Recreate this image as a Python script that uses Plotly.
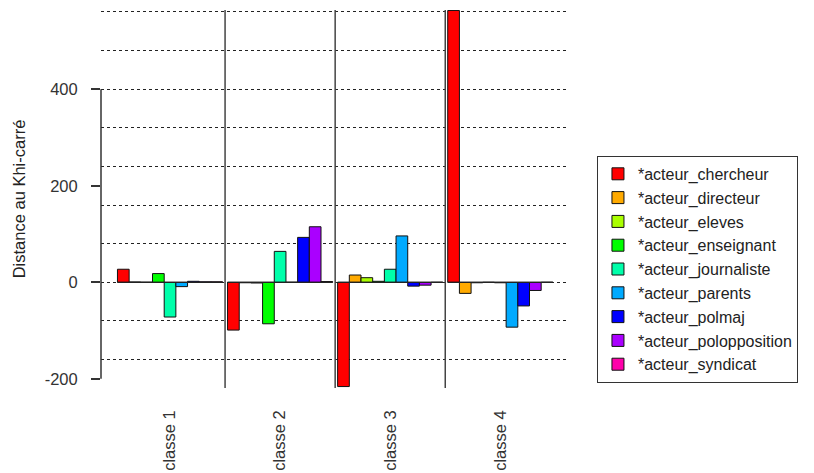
import plotly.graph_objects as go

classes = ["classe 1", "classe 2", "classe 3", "classe 4"]
series_names = ["*acteur_chercheur", "*acteur_directeur", "*acteur_eleves",
                "*acteur_enseignant", "*acteur_journaliste", "*acteur_parents",
                "*acteur_polmaj", "*acteur_polopposition", "*acteur_syndicat"]
chercheur = [27, -99, -216, 563]
directeur = [0.5, -1, 15, -23]
eleves = [0, -1.5, 9.5, -1]
enseignant = [18, -86, 2, 0]
journaliste = [-72, 64, 27, -1]
parents = [-9, 0, 96, -93]
polmaj = [2, 93, -8, -49]
polopposition = [1, 115, -6, -17]
syndicat = [1, 1.5, 0, 0]
series_values = [chercheur, directeur, eleves, enseignant, journaliste,
                 parents, polmaj, polopposition, syndicat]
colors = ["#FF0000", "#FFAA00", "#AAFF00", "#00FF00", "#00FFAA",
          "#00AAFF", "#0000FF", "#AA00FF", "#FF00AA"]
y_tick_values = [-200, 0, 200, 400]
grid_values = [-160, -80, 0, 80, 160, 240, 320, 400, 480, 560]

FONT = "Liberation Sans, Arial, sans-serif"
INK = "#333333"
BARGAP = 0.045

fig = go.Figure()
for name, vals, col in zip(series_names, series_values, colors):
    fig.add_trace(go.Bar(
        x=classes, y=vals, name=name,
        marker=dict(color=col, line=dict(color="#111111", width=1)),
    ))

# invisible trace to carry the dotted-grid overlay axis
fig.add_trace(go.Scatter(x=[classes[0]], y=[None], yaxis="y2",
                         showlegend=False, hoverinfo="skip", mode="lines"))

shapes = []
# vertical separators between classes
for i in range(len(classes) - 1):
    shapes.append(dict(type="line", xref="x", yref="paper",
                       x0=i + 0.5, x1=i + 0.5, y0=0, y1=1,
                       line=dict(color="#444444", width=1.5), layer="above"))
# zero baseline under each group (zero-height bar borders)
half = (1 - BARGAP) / 2
for i in range(len(classes)):
    shapes.append(dict(type="line", xref="x", yref="y",
                       x0=i - half, x1=i + half, y0=0, y1=0,
                       line=dict(color="#222222", width=1.2), layer="above"))
# R-style y axis line spanning the labelled ticks only
shapes.append(dict(type="line", xref="paper", yref="y",
                   x0=0, x1=0, y0=y_tick_values[0], y1=y_tick_values[-1],
                   line=dict(color=INK, width=1.5)))

yr = [-219, 564]
fig.update_layout(
    width=814, height=473,
    margin=dict(l=101, r=246, t=10, b=85, autoexpand=False),
    paper_bgcolor="white", plot_bgcolor="white",
    barmode="group", bargap=BARGAP, bargroupgap=0,
    font=dict(family=FONT, size=16, color=INK),
    showlegend=True,
    legend=dict(x=1.062, xanchor="left", y=0.614, yanchor="top",
                bordercolor="#333333", borderwidth=1, bgcolor="white",
                font=dict(family=FONT, size=16, color="#222222"),
                entrywidth=190, entrywidthmode="pixels",
                tracegroupgap=0, itemclick=False),
    xaxis=dict(range=[-0.627, 3.615], showgrid=False, zeroline=False,
               showline=False, ticks="", tickangle=-90, automargin=False,
               ticklabelstandoff=18,
               tickfont=dict(family=FONT, size=16.5, color=INK)),
    yaxis=dict(range=yr, tickvals=y_tick_values,
               ticktext=[str(v) for v in y_tick_values],
               showgrid=False, zeroline=False, showline=False, automargin=False,
               ticks="outside", ticklen=9, tickwidth=1.5, tickcolor=INK,
               ticklabelstandoff=10,
               tickfont=dict(family=FONT, size=16.5, color=INK),
               title=dict(text="Distance au Khi-carré", standoff=14,
                          font=dict(family=FONT, size=16.5, color="#222222"))),
    yaxis2=dict(range=yr, overlaying="y", tickvals=grid_values, automargin=False,
                showticklabels=False, ticks="", showgrid=True,
                griddash="dot", gridcolor="#222222", gridwidth=1.3,
                zeroline=False, showline=False),
    shapes=shapes,
)

fig.write_html("out.html", config={"displayModeBar": False},
               post_script="document.body.style.margin='0';document.body.style.overflow='hidden';")
